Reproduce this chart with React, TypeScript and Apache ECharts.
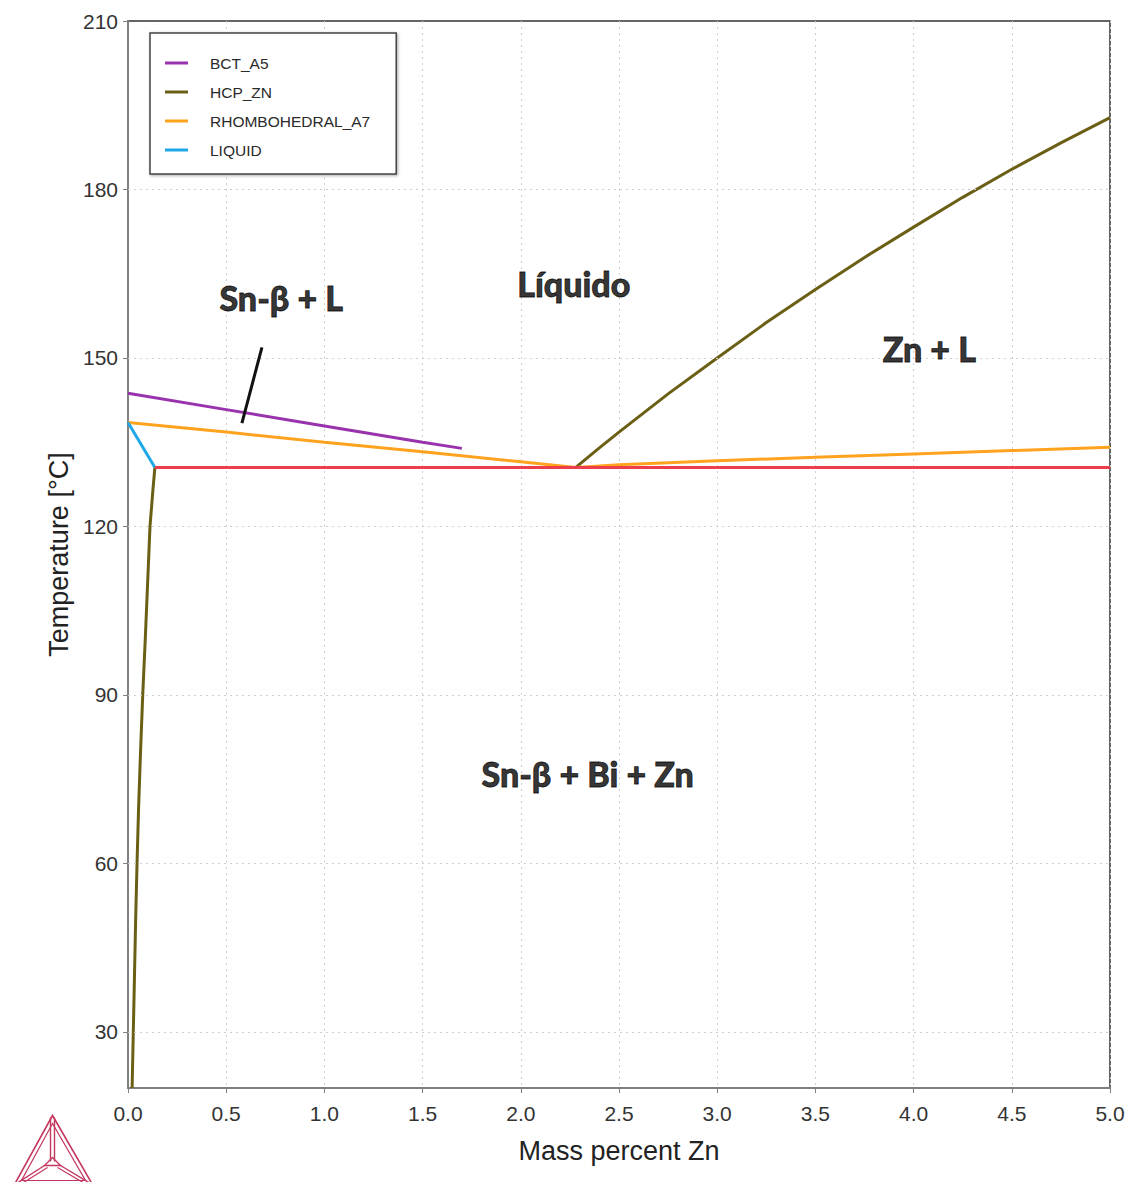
import React, { useEffect, useRef } from "react";
import * as echarts from "echarts";

// ---- Data (mass % Zn, temperature °C) ----
const bctA5: [number, number][] = [
  [0.0, 143.7],
  [0.5, 140.8],
  [1.0, 137.9],
  [1.5, 135.0],
  [1.7, 133.9],
];
const hcpZnSolvus: [number, number][] = [
  [0.137, 130.5],
  [0.128, 127],
  [0.12, 123.5],
  [0.112, 120],
  [0.1, 110],
  [0.088, 100],
  [0.075, 90],
  [0.064, 80],
  [0.054, 70],
  [0.046, 60],
  [0.039, 50],
  [0.033, 40],
  [0.027, 30],
  [0.021, 20],
];
const hcpZnLiquidus: [number, number][] = [
  [2.28, 130.5],
  [2.4, 134.0],
  [2.5, 136.8],
  [2.75, 143.6],
  [3.0, 150.0],
  [3.25, 156.3],
  [3.5, 162.2],
  [3.75, 167.9],
  [4.0, 173.3],
  [4.25, 178.6],
  [4.5, 183.6],
  [4.75, 188.3],
  [5.0, 192.8],
];
const rhomboLeft: [number, number][] = [
  [0.0, 138.5],
  [0.5, 136.8],
  [1.0, 135.0],
  [1.5, 133.3],
  [2.0, 131.5],
  [2.28, 130.5],
];
const rhomboRight: [number, number][] = [
  [2.28, 130.5],
  [2.5, 131.0],
  [3.0, 131.7],
  [3.5, 132.3],
  [4.0, 132.9],
  [4.5, 133.5],
  [5.0, 134.1],
];
const liquid: [number, number][] = [
  [0.0, 138.5],
  [0.137, 130.5],
];
const eutectic: [number, number][] = [
  [0.137, 130.5],
  [5.0, 130.5],
];
const pointer: [number, number][] = [
  [0.682, 151.9],
  [0.58, 138.4],
];
const regionLabels: { name: string; value: [number, number] }[] = [
  { name: "Sn-β + L", value: [0.78, 160.8] },
  { name: "Líquido", value: [2.27, 163.3] },
  { name: "Zn + L", value: [4.08, 151.7] },
  { name: "Sn-β + Bi + Zn", value: [2.34, 76.0] },
];
const yTicks = [30, 60, 90, 120, 150, 180, 210];
const yGridLines = [30, 60, 90, 120, 150, 180];
const legendNames = ["BCT_A5", "HCP_ZN", "RHOMBOHEDRAL_A7", "LIQUID"];

const C_BCT = "#9932ad";
const C_HCP = "#6b5f16";
const C_RHO = "#ffa31f";
const C_LIQ = "#1ea8ea";
const C_RED = "#ee3d4b";
const LOGO = "#c4385e";
const GRID = "#cfcfcf";
const SANS = "Liberation Sans, Arial, sans-serif";

export default function App() {
  const ref = useRef<HTMLDivElement>(null);
  useEffect(() => {
    if (!ref.current) return;
    const chart = echarts.init(ref.current, null, { renderer: "svg" });
    const lineS = (name: string, data: [number, number][], color: string, z = 3) => ({
      name,
      type: "line",
      data,
      showSymbol: false,
      symbol: "none",
      smooth: false,
      z,
      lineStyle: { color, width: 3 },
      itemStyle: { color },
    });
    chart.setOption({
      animation: false,
      backgroundColor: "#ffffff",
      grid: {
        left: 128,
        top: 21,
        right: 23,
        bottom: 94,
        show: true,
        borderColor: "#333",
        borderWidth: 1.5,
        backgroundColor: "transparent",
      },
      legend: {
        data: legendNames.map((n) => ({ name: n, icon: "rect" })),
        orient: "vertical",
        left: 150,
        top: 33,
        itemWidth: 23,
        itemHeight: 3,
        itemGap: 13,
        padding: [22, 26, 16, 15],
        backgroundColor: "#fff",
        borderColor: "#444",
        borderWidth: 1.5,
        shadowBlur: 3,
        shadowColor: "rgba(0,0,0,0.35)",
        shadowOffsetX: 1,
        shadowOffsetY: 1,
        textStyle: {
          fontFamily: SANS,
          fontSize: 15.5,
          lineHeight: 16,
          color: "#2a2a2a",
          padding: [0, 0, 0, 17],
        },
      },
      xAxis: {
        type: "value",
        min: 0,
        max: 5,
        interval: 0.5,
        name: "Mass percent Zn",
        nameLocation: "middle",
        nameGap: 49,
        nameTextStyle: { fontFamily: SANS, fontSize: 27, color: "#222" },
        axisLine: { show: true, lineStyle: { color: "#808080", width: 2 } },
        axisTick: { show: true, length: 5, lineStyle: { color: "#808080" } },
        axisLabel: {
          fontFamily: SANS,
          fontSize: 21,
          color: "#333",
          margin: 15,
          formatter: (v: number) => v.toFixed(1),
        },
        splitLine: { show: true, lineStyle: { color: GRID, type: [2, 4], width: 1 } },
      },
      yAxis: {
        type: "value",
        min: 20,
        max: 210,
        name: "Temperature [°C]",
        nameLocation: "middle",
        nameGap: 56,
        nameTextStyle: { fontFamily: SANS, fontSize: 27, color: "#222" },
        axisLine: { show: true, lineStyle: { color: "#808080", width: 2 } },
        axisTick: { show: true, length: 5, lineStyle: { color: "#808080" }, customValues: yTicks },
        axisLabel: {
          fontFamily: SANS,
          fontSize: 21,
          color: "#333",
          margin: 10,
          customValues: yTicks,
        },
        splitLine: { show: false },
      },
      series: [
        {
          name: "ygrid",
          type: "line",
          data: [],
          z: 1,
          silent: true,
          markLine: {
            silent: true,
            symbol: "none",
            label: { show: false },
            lineStyle: { color: GRID, type: [2, 4], width: 1 },
            data: yGridLines.map((v) => ({ yAxis: v })),
          },
        },
        lineS("BCT_A5", bctA5, C_BCT),
        lineS("HCP_ZN", hcpZnSolvus, C_HCP),
        lineS("HCP_ZN", hcpZnLiquidus, C_HCP),
        lineS("RHOMBOHEDRAL_A7", rhomboLeft, C_RHO),
        lineS("RHOMBOHEDRAL_A7", rhomboRight, C_RHO),
        lineS("LIQUID", liquid, C_LIQ),
        lineS("eutectic", eutectic, C_RED, 4),
        lineS("pointer", pointer, "#111", 5),
        {
          name: "labels",
          type: "scatter",
          symbolSize: 0,
          z: 6,
          data: regionLabels,
          label: {
            show: true,
            position: "inside",
            formatter: (p: any) => p.name,
            fontFamily: "Lato, Noto Sans, sans-serif",
            fontWeight: 900,
            fontSize: 34,
            color: "#000",
            textBorderColor: "#000",
            textBorderWidth: 0.8,
          },
        },
      ],
      graphic: [
        {
          type: "group",
          left: 12,
          top: 1113,
          children: [
            { type: "polygon", shape: { points: [[38, 0], [0, 69], [78, 69]] }, style: { fill: "none", stroke: LOGO, lineWidth: 1.6 } },
            { type: "polygon", shape: { points: [[38, 8], [7, 65], [71, 65]] }, style: { fill: "none", stroke: LOGO, lineWidth: 1.2 } },
            { type: "line", shape: { x1: 36, y1: 2, x2: 36, y2: 46 }, style: { stroke: LOGO, lineWidth: 1.4 } },
            { type: "line", shape: { x1: 40, y1: 2, x2: 40, y2: 46 }, style: { stroke: LOGO, lineWidth: 1.4 } },
            { type: "polygon", shape: { points: [[38, 42], [30, 50], [46, 50]] }, style: { fill: "none", stroke: LOGO, lineWidth: 1.4 } },
            { type: "line", shape: { x1: 30, y1: 50, x2: 2, y2: 68 }, style: { stroke: LOGO, lineWidth: 1.4 } },
            { type: "line", shape: { x1: 33, y1: 52, x2: 6, y2: 69 }, style: { stroke: LOGO, lineWidth: 1.2 } },
            { type: "line", shape: { x1: 46, y1: 50, x2: 76, y2: 68 }, style: { stroke: LOGO, lineWidth: 1.4 } },
            { type: "line", shape: { x1: 43, y1: 52, x2: 72, y2: 69 }, style: { stroke: LOGO, lineWidth: 1.2 } },
          ],
        },
      ],
    });
    return () => chart.dispose();
  }, []);
  return (
    <div
      ref={ref}
      style={{ position: "fixed", left: 0, top: 0, width: 1133, height: 1182, background: "#fff" }}
    />
  );
}
